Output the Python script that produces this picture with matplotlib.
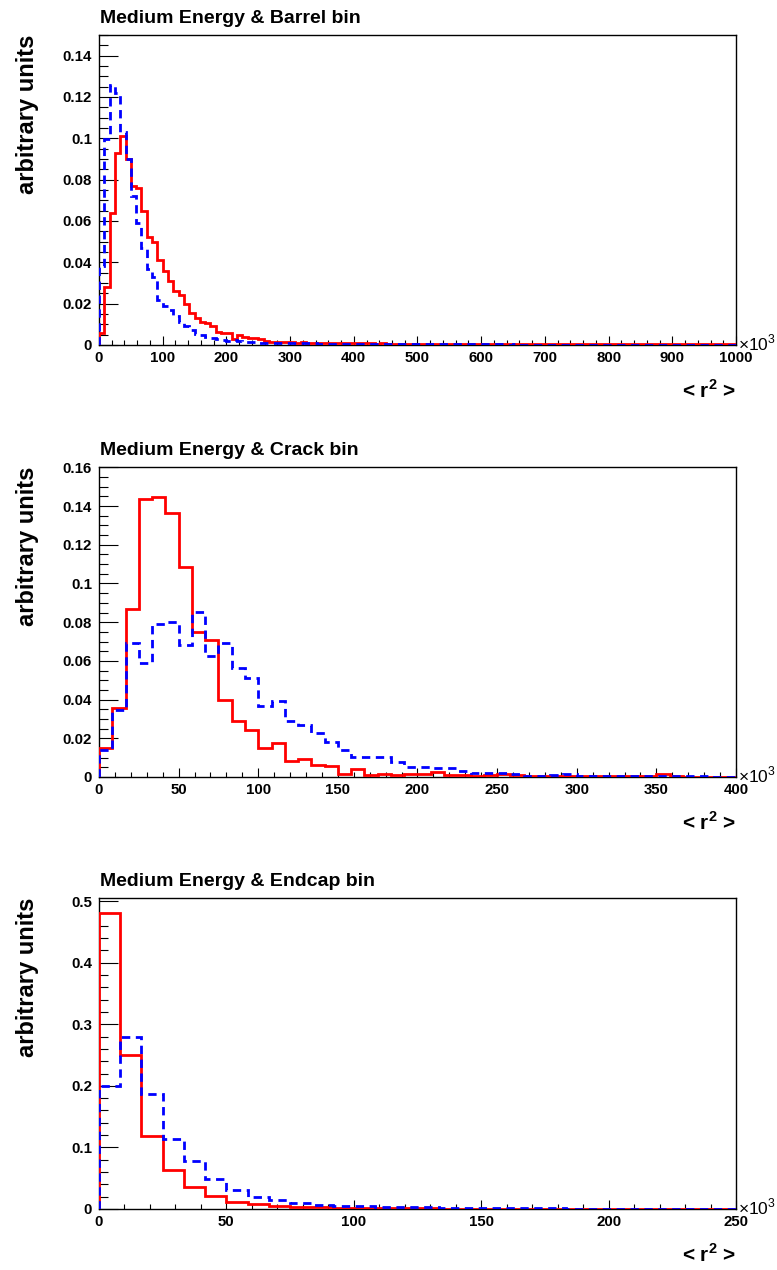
import numpy as np
import matplotlib
matplotlib.use("Agg")
import matplotlib.pyplot as plt
from matplotlib.ticker import MultipleLocator, FuncFormatter

plt.rcParams['font.family'] = ['Liberation Sans', 'DejaVu Sans']
plt.rcParams['mathtext.fontset'] = 'custom'
plt.rcParams['mathtext.rm'] = 'Liberation Sans'
plt.rcParams['mathtext.bf'] = 'Liberation Sans:bold'

# ---------------- data ----------------
titles = ["Medium Energy & Barrel bin", "Medium Energy & Crack bin", "Medium Energy & Endcap bin"]
x_max = [1000, 400, 250]
n_bins = [120, 48, 30]

barrel_red = [
    0.006, 0.028, 0.064, 0.093, 0.101, 0.090, 0.077, 0.076, 0.065, 0.0525,
    0.050, 0.041, 0.036, 0.031, 0.026, 0.024, 0.020, 0.0155, 0.013, 0.011,
    0.0105, 0.009, 0.0065, 0.006, 0.006, 0.003, 0.005, 0.004, 0.0035, 0.0032,
    0.003, 0.0018, 0.0016, 0.0015, 0.0014, 0.0015, 0.0013, 0.0012, 0.0013, 0.0011,
    0.0011, 0.0010, 0.0012, 0.0010, 0.0009, 0.0010, 0.0009, 0.0009, 0.0008, 0.0009,
    0.0008, 0.0008, 0.0007, 0.0008, 0.0007, 0.0007, 0.0007, 0.0006, 0.0007, 0.0006,
    0.0006, 0.0006, 0.0006, 0.0005, 0.0006, 0.0005, 0.0005, 0.0006, 0.0005, 0.0005,
    0.0005, 0.0005, 0.0004, 0.0005, 0.0004, 0.0005, 0.0004, 0.0004, 0.0004, 0.0004,
    0.0004, 0.0004, 0.0004, 0.0003, 0.0004, 0.0004, 0.0003, 0.0004, 0.0003, 0.0003,
    0.0003, 0.0004, 0.0003, 0.0003, 0.0003, 0.0003, 0.0004, 0.0003, 0.0003, 0.0003,
    0.0003, 0.0003, 0.0003, 0.0003, 0.0003, 0.0003, 0.0003, 0.0003, 0.0003, 0.0003,
    0.0003, 0.0003, 0.0003, 0.0003, 0.0003, 0.0003, 0.0003, 0.0003, 0.0003, 0.0003,
]
barrel_blue = [
    0.038, 0.0995, 0.1256, 0.122, 0.103, 0.090, 0.072, 0.059, 0.047, 0.037,
    0.033, 0.022, 0.019, 0.017, 0.014, 0.011, 0.009, 0.0075, 0.0055, 0.005,
    0.004, 0.0035, 0.003, 0.0025, 0.002, 0.0022, 0.0018, 0.0016, 0.0015, 0.0013,
    0.0012, 0.0011, 0.0011, 0.0010, 0.0010, 0.0009, 0.0009, 0.0008, 0.0009, 0.0008,
    0.0008, 0.0007, 0.0007, 0.0007, 0.0006, 0.0007, 0.0006, 0.0006, 0.0006, 0.0005,
    0.0006, 0.0005, 0.0005, 0.0005, 0.0005, 0.0004, 0.0005, 0.0004, 0.0004, 0.0004,
    0.0004, 0.0004, 0.0004, 0.0003, 0.0004, 0.0003, 0.0003, 0.0003, 0.0003, 0.0003,
    0.0003, 0.0003, 0.0003, 0.0003, 0.0003, 0.0003, 0.0003, 0.0002, 0.0003, 0.0002,
    0.0002, 0.0002, 0.0002, 0.0002, 0.0002, 0.0002, 0.0002, 0.0002, 0.0002, 0.0002,
    0.0002, 0.0002, 0.0002, 0.0002, 0.0002, 0.0002, 0.0002, 0.0002, 0.0002, 0.0002,
    0.0002, 0.0002, 0.0002, 0.0002, 0.0002, 0.0002, 0.0002, 0.0002, 0.0002, 0.0002,
    0.0002, 0.0002, 0.0002, 0.0002, 0.0002, 0.0002, 0.0002, 0.0002, 0.0002, 0.0002,
]

crack_red = [
    0.015, 0.0355, 0.087, 0.1437, 0.1447, 0.1365, 0.1085, 0.0747, 0.0709, 0.040,
    0.0287, 0.0245, 0.015, 0.0177, 0.0085, 0.0091, 0.0062, 0.0057, 0.0014, 0.0043,
    0.001, 0.0014, 0.001, 0.0014, 0.0014, 0.0027, 0.001, 0.001, 0.0005, 0.001,
    0.0014, 0.001, 0.0003, 0.0003, 0.0007, 0.0007, 0.0007, 0.0003, 0.0003, 0.0003,
    0.0003, 0.0003, 0.0014, 0.0003, 0.0, 0.0, 0.0, 0.0,
]
crack_blue = [
    0.0137, 0.0347, 0.069, 0.059, 0.079, 0.080, 0.068, 0.0855, 0.0623, 0.069,
    0.0563, 0.051, 0.0366, 0.0395, 0.0288, 0.027, 0.0228, 0.0179, 0.0142, 0.0101,
    0.0101, 0.0101, 0.0079, 0.0053, 0.005, 0.0045, 0.0045, 0.0031, 0.0022, 0.0022,
    0.0019, 0.0015, 0.0003, 0.0003, 0.001, 0.0014, 0.0007, 0.0005, 0.0005, 0.0003,
    0.0007, 0.0005, 0.0003, 0.0003, 0.0003, 0.0003, 0.0002, 0.0002,
]

endcap_red = [
    0.481, 0.250, 0.119, 0.0637, 0.035, 0.0205, 0.0108, 0.008, 0.0043, 0.0032,
    0.0027, 0.0016, 0.0013, 0.0011, 0.001, 0.0009, 0.0008, 0.0007, 0.0006, 0.0006,
    0.0005, 0.0005, 0.0004, 0.0004, 0.0004, 0.0003, 0.0003, 0.0003, 0.0003, 0.0003,
]
endcap_blue = [
    0.199, 0.280, 0.186, 0.114, 0.078, 0.049, 0.031, 0.019, 0.015, 0.0097,
    0.006, 0.0054, 0.0043, 0.0032, 0.0027, 0.0027, 0.0016, 0.0013, 0.002, 0.0012,
    0.001, 0.0009, 0.0008, 0.0008, 0.0007, 0.0007, 0.0006, 0.0006, 0.0005, 0.0005,
]

reds = [barrel_red, crack_red, endcap_red]
blues = [barrel_blue, crack_blue, endcap_blue]
y_max = [0.150, 0.1602, 0.505]
y_major = [0.02, 0.02, 0.1]
y_minor = [0.005, 0.005, 0.02]
x_major = [100, 50, 50]
x_minor = [20, 10, 10]

# ---------------- layout ----------------
W, H = 777, 1270
fig = plt.figure(figsize=(W / 100, H / 100), dpi=100)

ax_left, ax_right = 99, 736
tops = [35, 467, 898]
bots = [345, 777, 1209]

def fmt(v, pos):
    if abs(v) < 1e-9:
        return "0"
    return "%g" % round(v, 6)

for i in range(3):
    t, b = tops[i], bots[i]
    ax = fig.add_axes([ax_left / W, 1 - b / H, (ax_right - ax_left) / W, (b - t) / H])
    edges = np.linspace(0, x_max[i], n_bins[i] + 1)
    ax.stairs(reds[i], edges, color='#ff0000', lw=2.0, baseline=0, zorder=3)
    ax.stairs(blues[i], edges, color='#0000ff', lw=2.0, linestyle=(0, (3, 2)), baseline=0, zorder=4)
    ax.set_xlim(0, x_max[i])
    ax.set_ylim(0, y_max[i])

    ax.xaxis.set_major_locator(MultipleLocator(x_major[i]))
    ax.xaxis.set_minor_locator(MultipleLocator(x_minor[i]))
    ax.yaxis.set_major_locator(MultipleLocator(y_major[i]))
    ax.yaxis.set_minor_locator(MultipleLocator(y_minor[i]))
    ax.yaxis.set_major_formatter(FuncFormatter(fmt))
    ax.xaxis.set_major_formatter(FuncFormatter(lambda v, p: "%d" % round(v)))

    ax.tick_params(axis='x', which='major', direction='in', length=6.5, width=0.8,
                   top=False, pad=4, labelsize=10.8)
    ax.tick_params(axis='x', which='minor', direction='in', length=3.3, width=0.8, top=False)
    ax.tick_params(axis='y', which='major', direction='in', length=13.5, width=0.8,
                   right=False, pad=5, labelsize=10.8)
    ax.tick_params(axis='y', which='minor', direction='in', length=6.8, width=0.8, right=False)
    for lab in ax.get_xticklabels() + ax.get_yticklabels():
        lab.set_fontweight('bold')
    for s in ax.spines.values():
        s.set_linewidth(1.0)

    h = b - t
    wpx = ax_right - ax_left
    ax.text(0.002, 1 + 12 / h, titles[i], transform=ax.transAxes, ha='left', va='baseline',
            fontsize=14, fontweight='bold')
    ax.text((27 - ax_left) / wpx, 1.0, "arbitrary units", transform=ax.transAxes,
            rotation=90, ha='center', va='top', fontsize=17, fontweight='bold')
    ax.text(1.0, -46 / h, r"< r$^{\mathbf{2}}$ >", transform=ax.transAxes, ha='right', va='center',
            fontsize=15, fontweight='bold')
    ax.text(1 + 2 / wpx, 2 / h, r"×10$^{3}$", transform=ax.transAxes, ha='left', va='center',
            fontsize=12.5)

fig.savefig("out.png", dpi=100)
